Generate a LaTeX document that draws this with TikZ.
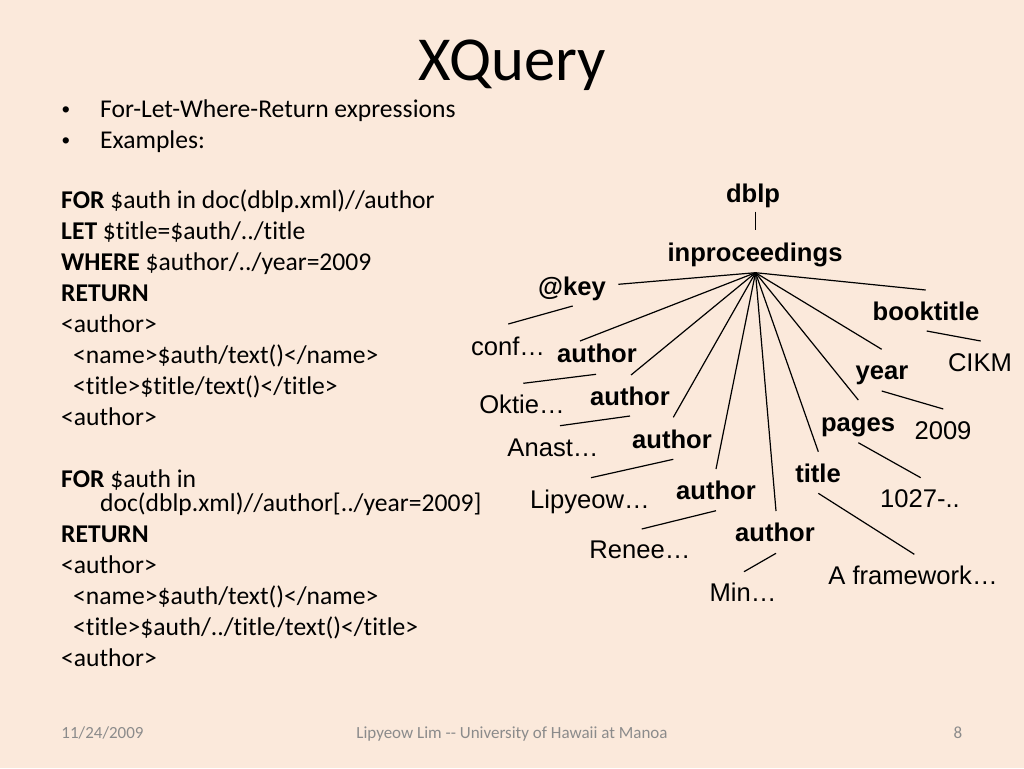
\documentclass[tikz,border=0pt]{standalone}
\usepackage{fontspec}
\setmainfont{Carlito}[Ligatures={NoCommon,NoContextual}]
\newfontfamily\arialf{Liberation Sans}
\definecolor{bg}{HTML}{FBE9DB}
\definecolor{foot}{HTML}{8B8B8B}
\begin{document}
\begin{tikzpicture}[x=1pt,y=-1pt,
  body/.style={anchor=base west,inner sep=0pt,font=\fontsize{25.6}{31}\selectfont},
  bul/.style={anchor=base,inner sep=0pt,font=\arialf\fontsize{23}{26}\selectfont},
  tag/.style={anchor=base,inner sep=0pt,font=\arialf\bfseries\fontsize{25.6}{30}\selectfont},
  val/.style={anchor=base,inner sep=0pt,font=\arialf\fontsize{25.6}{30}\selectfont},
  edge/.style={line width=1.2pt,black},
  footer/.style={anchor=base,inner sep=0pt,text=foot,font=\fontsize{17}{20}\selectfont}]

\fill[bg] (0,0) rectangle (1024,768);
\useasboundingbox (0,0) rectangle (1024,768);

% title
\node[anchor=base,inner sep=0pt,font=\fontsize{62.6}{70}\selectfont] (title) at (512,81) {XQuery};

% bullets
\node[bul] (b1) at (66,117) {•};
\node[body] (t1) at (100,117) {For-Let-Where-Return expressions};
\node[bul] (b2) at (66,148) {•};
\node[body] (t2) at (100,148) {Examples:};

% code
\node[body] (l1) at (61,208) {\textbf{FOR} \$auth in doc(dblp.xml)//author};
\node[body] (l2) at (61,239) {\textbf{LET} \$title=\$auth/../title};
\node[body] (l3) at (61,270) {\textbf{WHERE} \$author/../year=2009};
\node[body] (l4) at (61,301) {\textbf{RETURN}};
\node[body] (l5) at (61,332) {<author>};
\node[body] (l6) at (73,363) {<name>\$auth/text()</name>};
\node[body] (l7) at (73,394) {<title>\$title/text()</title>};
\node[body] (l8) at (61,425) {<author>};
\node[body] (l9) at (61,487) {\textbf{FOR} \$auth in};
\node[body] (l10) at (100,511) {doc(dblp.xml)//author[../year=2009]};
\node[body] (l11) at (61,542) {\textbf{RETURN}};
\node[body] (l12) at (61,573) {<author>};
\node[body] (l13) at (73,604) {<name>\$auth/text()</name>};
\node[body] (l14) at (73,635) {<title>\$auth/../title/text()</title>};
\node[body] (l15) at (61,666) {<author>};

% tree nodes
\node[tag] (dblp) at (753,202) {dblp};
\node[tag] (inproc) at (755,261) {inproceedings};
\node[tag] (key) at (572,295) {@key};
\node[tag] (booktitle) at (926,320) {booktitle};
\node[tag] (author1) at (597,362) {author};
\node[tag] (author2) at (630,405) {author};
\node[tag] (author3) at (672,448) {author};
\node[tag] (author4) at (716,499) {author};
\node[tag] (author5) at (775,541) {author};
\node[tag] (year) at (882,379) {year};
\node[tag] (pages) at (858,431) {pages};
\node[tag] (ttl) at (818,482) {title};

\node[val] (conf) at (508,355) {conf…};
\node[val] (oktie) at (522,413) {Oktie…};
\node[val] (anast) at (553,456) {Anast…};
\node[val] (lipyeow) at (590,508) {Lipyeow…};
\node[val] (renee) at (640,558) {Renee…};
\node[val] (min) at (743,601) {Min…};
\node[val] (cikm) at (980,371) {CIKM};
\node[val] (v2009) at (943,439) {2009};
\node[val] (v1027) at (920,507) {1027-..};
\node[val] (frame) at (913,584) {A framework…};

% connector end points
\coordinate (dblp-b) at (755.7,211.7);
\coordinate (inproc-t) at (755.7,230);
\coordinate (hub) at (755.5,272.7);
\coordinate (key-e) at (618.3,284.3);
\coordinate (author1-t) at (580,341);
\coordinate (author2-t) at (631,375);
\coordinate (author3-t) at (673.3,417.3);
\coordinate (author4-t) at (716,469);
\coordinate (author5-t) at (776,511);
\coordinate (ttl-t) at (818.3,451.7);
\coordinate (pages-t) at (858.3,400);
\coordinate (year-t) at (881.7,349.3);
\coordinate (booktitle-t) at (925.7,290);

\coordinate (key-b) at (572.7,306);
\coordinate (conf-t) at (508.3,324);
\coordinate (author1-b) at (596,374.3);
\coordinate (oktie-t) at (523.3,383.3);
\coordinate (author2-b) at (630,416);
\coordinate (anast-t) at (560,425.7);
\coordinate (author3-b) at (673.3,459.3);
\coordinate (lipyeow-t) at (591,477.7);
\coordinate (author4-b) at (716,510.7);
\coordinate (renee-t) at (641.7,529);
\coordinate (author5-b) at (776,553.3);
\coordinate (min-t) at (744,571.7);
\coordinate (ttl-b) at (818.3,493.3);
\coordinate (frame-t) at (914.3,554.3);
\coordinate (pages-b) at (858.3,442.7);
\coordinate (v1027-t) at (920.7,477.7);
\coordinate (year-b) at (881.7,391);
\coordinate (v2009-t) at (943.3,409);
\coordinate (booktitle-b) at (926.7,331);
\coordinate (cikm-t) at (980.7,341);

% connectors
\draw[edge] (dblp-b) -- (inproc-t);
\foreach \c in {key-e,author1-t,author2-t,author3-t,author4-t,author5-t,ttl-t,pages-t,year-t,booktitle-t}
  \draw[edge] (hub) -- (\c);
\draw[edge] (key-b) -- (conf-t);
\draw[edge] (author1-b) -- (oktie-t);
\draw[edge] (author2-b) -- (anast-t);
\draw[edge] (author3-b) -- (lipyeow-t);
\draw[edge] (author4-b) -- (renee-t);
\draw[edge] (author5-b) -- (min-t);
\draw[edge] (ttl-b) -- (frame-t);
\draw[edge] (pages-b) -- (v1027-t);
\draw[edge] (year-b) -- (v2009-t);
\draw[edge] (booktitle-b) -- (cikm-t);

% footer
\node[footer] (date) at (102.5,738) {11/24/2009};
\node[footer] (auth) at (512,738) {Lipyeow Lim {-}{-} University of Hawaii at Manoa};
\node[footer] (page) at (958,738) {8};
\end{tikzpicture}
\end{document}
